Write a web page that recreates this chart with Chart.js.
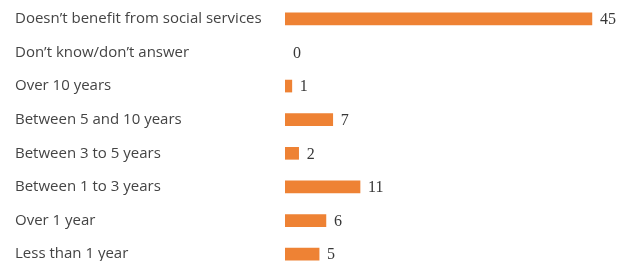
<!DOCTYPE html>
<html>
<head>
<meta charset="utf-8">
<script src="https://cdn.jsdelivr.net/npm/chart.js@4"></script>
<style>
  html, body { margin: 0; padding: 0; background: #fff; overflow: hidden; }
  #wrap { width: 634px; height: 261px; overflow: hidden; }
  #chart { display: block; margin-top: -7px; }
</style>
</head>
<body>
<div id="wrap"><canvas id="chart" width="634" height="287"></canvas></div>
<script>
const categories = [
  "Doesn\u2019t benefit from social services",
  "Don\u2019t know/don\u2019t answer",
  "Over 10 years",
  "Between 5 and 10 years",
  "Between 3 to 5 years",
  "Between 1 to 3 years",
  "Over 1 year",
  "Less than 1 year"
];
const counts = [45, 0, 1, 7, 2, 11, 6, 5];

// draws the number just right of each bar
const valueLabels = {
  id: "valueLabels",
  afterDatasetsDraw(chart) {
    const ctx = chart.ctx;
    const meta = chart.getDatasetMeta(0);
    ctx.save();
    ctx.font = "16px 'Liberation Serif'";
    ctx.fillStyle = "#383838";
    ctx.textBaseline = "middle";
    meta.data.forEach((bar, i) => {
      ctx.fillText(String(counts[i]), bar.x + 8, bar.y + 1);
    });
    ctx.restore();
  }
};

new Chart(document.getElementById("chart"), {
  type: "bar",
  data: {
    labels: categories,
    datasets: [{
      data: counts,
      backgroundColor: counts.map(v => v > 0 ? "#EE8234" : "rgba(0,0,0,0)"),
      barThickness: 12
    }]
  },
  options: {
    indexAxis: "y",
    responsive: false,
    animation: false,
    layout: { padding: { left: 15, right: 8, top: 0, bottom: 0 } },
    plugins: { legend: { display: false }, tooltip: { enabled: false } },
    scales: {
      x: { display: false, min: 0, max: 50 },
      y: {
        grid: { display: false },
        border: { display: false },
        ticks: {
          crossAlign: "far",
          color: "#444444",
          font: { family: "Open Sans", size: 15 },
          padding: 0
        },
        afterFit(scale) { scale.width = 270; }
      }
    }
  },
  plugins: [valueLabels]
});
</script>
</body>
</html>
